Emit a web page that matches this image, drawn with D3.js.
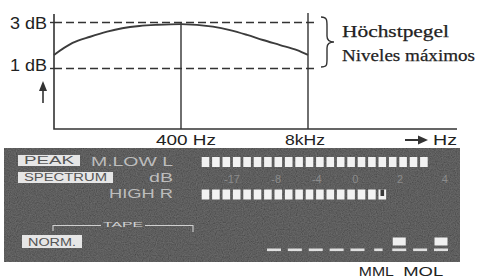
<!DOCTYPE html>
<html>
<head>
<meta charset="utf-8">
<script src="https://cdn.jsdelivr.net/npm/d3@7"></script>
<style>
  html, body { margin: 0; padding: 0; background: #fff; }
  svg { display: block; }
</style>
</head>
<body>
<div id="chart"></div>
<script>
// frequency response curve (Hz -> dB)
const freqHz  = [20, 31, 47, 70, 100, 150, 230, 400, 850, 1270, 1900, 2760, 4140, 6180, 8000];
const levelDb = [1.59, 2.11, 2.38, 2.60, 2.75, 2.85, 2.90, 2.93, 2.82, 2.67, 2.46, 2.24, 2.02, 1.80, 1.59];

const freqTicks = [400, 8000];
const freqTickLabels = ["400 Hz", "8kHz"];
const dbLines = [3, 1];
const dbLabels = ["3 dB", "1 dB"];
const legendLines = ["Höchstpegel", "Niveles máximos"];

// level meter panel
const meterRows = ["M.LOW L", "HIGH R"];
const meterLevels = [22, 17.5];
const meterSegments = 22;
const meterScaleLabels = ["-17", "-8", "-4", "0", "2", "4"];
const meterScaleSeg = [2.55, 6.8, 10.7, 14.4, 18.7, 23];
const panelBoxes = ["PEAK", "SPECTRUM", "NORM."];
const tapeMarkWidth = [1, 1, 1, 1, 1, 0.6, 1, 1, 1];
const tapeLit = [0, 0, 0, 0, 0, 0, 1, 0, 1];
const tapeLabels = ["MML", "MOL"];
const tapeLabelPos = [4.9, 7.15];

const W = 477, H = 280;
const svg = d3.select("#chart").append("svg")
    .attr("width", W).attr("height", H)
    .style("font-family", "'Liberation Sans', Arial, sans-serif");

// grain for the dark panel
const defs = svg.append("defs");
const grain = defs.append("filter").attr("id", "grain")
    .attr("x", 0).attr("y", 0).attr("width", "100%").attr("height", "100%");
grain.append("feTurbulence").attr("type", "fractalNoise")
    .attr("baseFrequency", 0.85).attr("numOctaves", 2).attr("seed", 4);
grain.append("feColorMatrix").attr("type", "saturate").attr("values", 0);
grain.append("feComponentTransfer").append("feFuncA").attr("type", "linear").attr("slope", 0).attr("intercept", 0.5);
grain.append("feComposite").attr("in2", "SourceGraphic").attr("operator", "in");

const ink = "#333";

// ---------------- top chart ----------------
const x = d3.scaleLog().domain([20, 8000]).range([54, 308]);
const y = d3.scaleLinear().domain([1, 3]).range([68.5, 22.5]);
const plotTop = 14, plotBottom = 129, axisRight = 457;

const plot = svg.append("g");

// dashed level lines
plot.selectAll(".lvl").data(dbLines).enter().append("line")
    .attr("x1", x(20)).attr("x2", 318)
    .attr("y1", d => y(d)).attr("y2", d => y(d))
    .attr("stroke", ink).attr("stroke-width", 1.6)
    .attr("stroke-dasharray", "8,4");

// frequency verticals
plot.selectAll(".fv").data(freqTicks).enter().append("line")
    .attr("x1", d => x(d)).attr("x2", d => x(d))
    .attr("y1", (d, i) => i === 0 ? y(3) : plotTop - 1)
    .attr("y2", plotBottom)
    .attr("stroke", ink).attr("stroke-width", 1.4);

// axes
plot.append("path")
    .attr("d", `M${x(20)},${plotTop}V${plotBottom}H${axisRight}`)
    .attr("fill", "none").attr("stroke", ink).attr("stroke-width", 1.6);

// small ticks left of y axis
plot.selectAll(".yt").data(dbLines).enter().append("line")
    .attr("x1", x(20) - 4).attr("x2", x(20))
    .attr("y1", d => y(d)).attr("y2", d => y(d))
    .attr("stroke", ink).attr("stroke-width", 1.4);

plot.selectAll(".yl").data(dbLabels).enter().append("text")
    .attr("x", 47).attr("y", (d, i) => y(dbLines[i]) + (i === 0 ? 6 : 2))
    .attr("text-anchor", "end")
    .attr("font-size", 16).attr("fill", "#222")
    .attr("textLength", 37).attr("lengthAdjust", "spacingAndGlyphs")
    .text(d => d);

// up arrow
plot.append("line").attr("x1", 43).attr("x2", 43).attr("y1", 88).attr("y2", 103)
    .attr("stroke", ink).attr("stroke-width", 1.6);
plot.append("path").attr("d", "M43,81L47,91L39,91Z").attr("fill", ink);

// curve
const line = d3.line()
    .x(d => x(d[0])).y(d => y(d[1]))
    .curve(d3.curveMonotoneX);
plot.append("path")
    .datum(freqHz.map((f, i) => [f, levelDb[i]]))
    .attr("d", line)
    .attr("fill", "none").attr("stroke", "#3c3c3c").attr("stroke-width", 1.9);

// frequency labels
plot.selectAll(".xl").data(freqTickLabels).enter().append("text")
    .attr("x", (d, i) => x(freqTicks[i]) + (i === 0 ? 5 : -3))
    .attr("y", 145)
    .attr("text-anchor", "middle")
    .attr("font-size", 15).attr("fill", "#222")
    .attr("textLength", (d, i) => i === 0 ? 60 : 40).attr("lengthAdjust", "spacingAndGlyphs")
    .text(d => d);

// "-> Hz"
plot.append("line").attr("x1", 405).attr("x2", 420).attr("y1", 140).attr("y2", 140)
    .attr("stroke", ink).attr("stroke-width", 2);
plot.append("path").attr("d", "M428,140L418,135.5L418,144.5Z").attr("fill", ink);
plot.append("text").attr("x", 433).attr("y", 145)
    .attr("font-size", 15).attr("fill", "#222")
    .attr("textLength", 24).attr("lengthAdjust", "spacingAndGlyphs")
    .text("Hz");

// brace + legend
plot.append("path")
    .attr("d", "M321,17 C327,17 327,20 327,26 L327,36 C327,40 329,42 334,42 C329,42 327,44 327,48 L327,59 C327,65 327,67 321,67")
    .attr("fill", "none").attr("stroke", ink).attr("stroke-width", 1.4);
plot.selectAll(".lg").data(legendLines).enter().append("text")
    .attr("x", 342).attr("y", (d, i) => 37 + i * 24)
    .attr("font-family", "'Liberation Serif', 'Times New Roman', serif")
    .attr("font-size", 17).attr("fill", "#222")
    .attr("stroke", "#222").attr("stroke-width", 0.25)
    .attr("textLength", (d, i) => i === 0 ? 107 : 133).attr("lengthAdjust", "spacingAndGlyphs")
    .text(d => d);

// ---------------- meter panel ----------------
const panel = svg.append("g");
const px0 = 4, py0 = 148, px1 = 460, py1 = 262;
panel.append("rect").attr("x", px0).attr("y", py0).attr("width", px1 - px0).attr("height", py1 - py0)
    .attr("fill", "#2c2c2c");
panel.append("rect").attr("x", px0).attr("y", py0).attr("width", px1 - px0).attr("height", py1 - py0)
    .attr("fill", "#000").attr("filter", "url(#grain)").attr("opacity", 0.7);

// boxed labels
const boxGeom = [[18, 155, 62, 11], [18, 172, 95, 11], [22, 235, 60, 13]];
panel.selectAll(".bx").data(panelBoxes).enter().append("rect")
    .attr("x", (d, i) => boxGeom[i][0]).attr("y", (d, i) => boxGeom[i][1])
    .attr("width", (d, i) => boxGeom[i][2]).attr("height", (d, i) => boxGeom[i][3])
    .attr("fill", "#e6e6e6");
panel.selectAll(".bt").data(panelBoxes).enter().append("text")
    .attr("x", (d, i) => boxGeom[i][0] + boxGeom[i][2] / 2)
    .attr("y", (d, i) => boxGeom[i][1] + boxGeom[i][3] - 2)
    .attr("text-anchor", "middle")
    .attr("font-size", 10).attr("fill", "#555")
    .attr("textLength", (d, i) => boxGeom[i][2] - 12).attr("lengthAdjust", "spacingAndGlyphs")
    .text(d => d);

// row labels
const rowLabelY = [166, 198];
panel.selectAll(".rl").data(meterRows).enter().append("text")
    .attr("x", 173).attr("y", (d, i) => rowLabelY[i])
    .attr("text-anchor", "end")
    .attr("font-size", 12).attr("fill", "#bdbdbd")
    .attr("textLength", (d, i) => i === 0 ? 82 : 64).attr("lengthAdjust", "spacingAndGlyphs")
    .text(d => d);
panel.append("text").attr("x", 173).attr("y", 182).attr("text-anchor", "end")
    .attr("font-size", 12).attr("fill", "#bdbdbd")
    .attr("textLength", 24).attr("lengthAdjust", "spacingAndGlyphs")
    .text("dB");

// segments
const segX = d3.scaleLinear().domain([0, meterSegments]).range([201.7, 201.7 + meterSegments * 10.4]);
const segW = 7.6;
const rowY = [157, 189.5];
meterLevels.forEach((lvl, r) => {
    const segs = d3.range(Math.ceil(lvl));
    panel.selectAll(".s" + r).data(segs).enter().append("rect")
        .attr("x", d => segX(d)).attr("y", rowY[r])
        .attr("width", segW).attr("height", 10)
        .attr("fill", "#f2f2f2");
    if (lvl % 1 !== 0) {
        // partially lit last segment
        const last = Math.floor(lvl);
        panel.append("rect")
            .attr("x", segX(last) + 2).attr("y", rowY[r])
            .attr("width", segW - 4).attr("height", 6.5)
            .attr("fill", "#3a3a3a");
    }
});

// meter scale labels
panel.selectAll(".ml").data(meterScaleLabels).enter().append("text")
    .attr("x", (d, i) => segX(meterScaleSeg[i]) + segW / 2)
    .attr("y", 183)
    .attr("text-anchor", "middle")
    .attr("font-size", 11).attr("fill", "#8c8c8c")
    .text(d => d);

// TAPE bracket
panel.append("path").attr("d", "M53,231V225.5H101 M145,225.5H193V232")
    .attr("fill", "none").attr("stroke", "#d0d0d0").attr("stroke-width", 1.1);
panel.append("text").attr("x", 123).attr("y", 227).attr("text-anchor", "middle")
    .attr("font-size", 8).attr("fill", "#d0d0d0")
    .attr("textLength", 40).attr("lengthAdjust", "spacingAndGlyphs")
    .text("TAPE");

// tape indicators
const tapeX = d3.scaleLinear().domain([0, tapeMarkWidth.length - 1]).range([274, 441]);
panel.selectAll(".td").data(tapeMarkWidth).enter().append("rect")
    .attr("x", (d, i) => tapeX(i) - 7 * d).attr("y", 248.5)
    .attr("width", d => 14 * d).attr("height", 2.6)
    .attr("fill", "#e0e0e0");
tapeLit.forEach((lit, i) => {
    if (!lit) return;
    panel.append("rect")
        .attr("x", tapeX(i) - 6.5).attr("y", 237.5)
        .attr("width", 13).attr("height", 8)
        .attr("fill", "#f0f0f0");
});

// MML / MOL
svg.selectAll(".tp").data(tapeLabels).enter().append("text")
    .attr("x", (d, i) => tapeX(tapeLabelPos[i]))
    .attr("y", 276)
    .attr("text-anchor", "middle")
    .attr("font-size", 13).attr("fill", "#222")
    .attr("textLength", (d, i) => i === 0 ? 35 : 40).attr("lengthAdjust", "spacingAndGlyphs")
    .text(d => d);
</script>
</body>
</html>
